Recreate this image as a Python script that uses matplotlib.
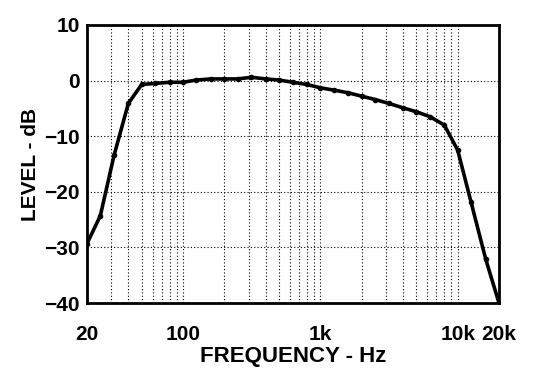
import numpy as np
import matplotlib.pyplot as plt
from matplotlib.ticker import FixedLocator, NullFormatter

# 1/3 octave band centres and measured level
freq = [20, 25, 31.5, 40, 50, 63, 80, 100, 125, 160, 200, 250, 315, 400, 500,
        630, 800, 1000, 1250, 1600, 2000, 2500, 3150, 4000, 5000, 6300, 8000,
        10000, 12500, 16000, 20000]
level = [-29.3, -24.3, -13.4, -4.1, -0.7, -0.5, -0.3, -0.3, 0.1, 0.3, 0.3, 0.3,
         0.6, 0.3, 0.1, -0.3, -0.7, -1.3, -1.7, -2.2, -2.8, -3.4, -4.1, -4.9,
         -5.6, -6.5, -8.0, -12.5, -21.8, -32.1, -40.0]

xticks = [20, 100, 1000, 10000, 20000]
xticklabels = ["20", "100", "1k", "10k", "20k"]
yticks = [-40, -30, -20, -10, 0, 10]

plt.rcParams["font.family"] = ["Liberation Sans", "DejaVu Sans"]
plt.rcParams["font.weight"] = "bold"

fig = plt.figure(figsize=(5.48, 3.84), dpi=100)
ax = fig.add_axes([0.1588, 0.2109, 0.7518, 0.724])

ax.plot(freq, level, color="black", lw=2.6, marker="o", ms=3, zorder=3)

ax.set_xscale("log")
ax.set_xlim(20, 20000)
ax.set_ylim(-40, 10)

grid_x = [m * d for d in (10, 100, 1000) for m in range(2, 10)] + [100, 1000, 10000]
grid_x = [g for g in grid_x if 20 < g < 20000]
for g in grid_x:
    ax.axvline(g, color="black", lw=0.8, ls=(0, (1, 2)), zorder=1)
for g in [-30, -20, -10, 0]:
    ax.axhline(g, color="black", lw=0.8, ls=(0, (1, 2)), zorder=1)

ax.xaxis.set_major_locator(FixedLocator(xticks))
ax.set_xticklabels(xticklabels)
ax.xaxis.set_minor_locator(FixedLocator([]))
ax.xaxis.set_minor_formatter(NullFormatter())
ax.set_yticks(yticks)

ax.tick_params(axis="x", length=0, pad=16, labelsize=15)
ax.tick_params(axis="y", length=0, pad=5, labelsize=15)
for lab in ax.get_xticklabels() + ax.get_yticklabels():
    lab.set_fontweight("bold")

for s in ax.spines.values():
    s.set_linewidth(2)
    s.set_color("black")

ax.set_xlabel("FREQUENCY - Hz", fontsize=16, fontweight="bold", labelpad=1)
ax.set_ylabel("LEVEL - dB", fontsize=15, fontweight="bold", labelpad=3)

fig.savefig("out.png", dpi=100)
